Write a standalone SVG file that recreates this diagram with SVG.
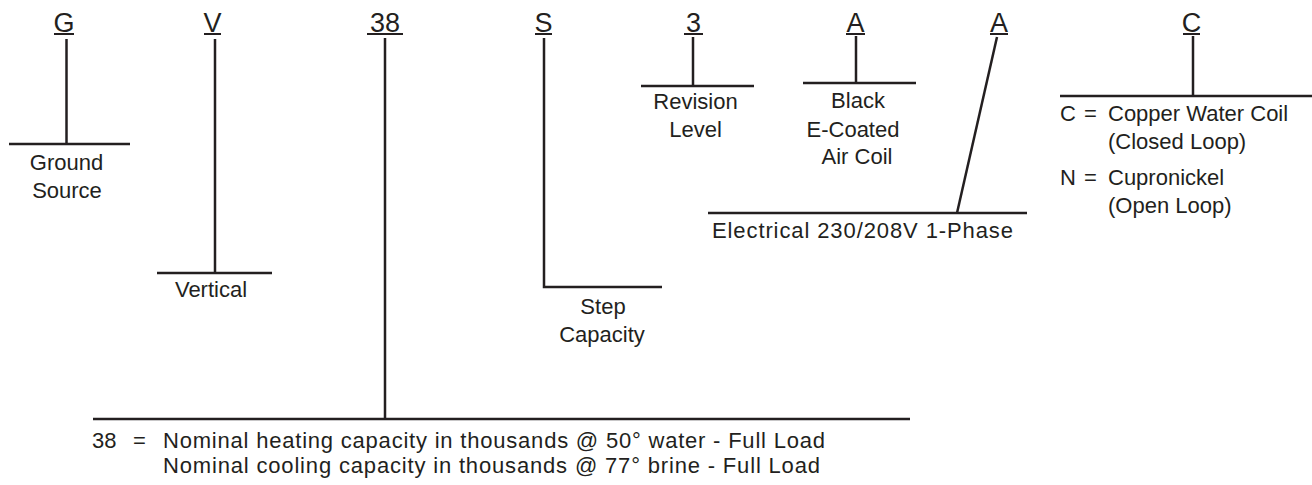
<svg xmlns="http://www.w3.org/2000/svg" width="1312" height="485" viewBox="0 0 1312 485">
  <style>
    .code { font-family: "Liberation Sans", Arial, sans-serif; font-size: 27px; fill: #231f20; text-anchor: middle; }
    .lbl { font-family: "Liberation Sans", Arial, sans-serif; font-size: 22px; fill: #231f20; text-anchor: middle; }
    .lbll { font-family: "Liberation Sans", Arial, sans-serif; font-size: 22px; fill: #231f20; }
    .ln { stroke: #231f20; stroke-width: 2.5; fill: none; stroke-linecap: butt; }
    .ul { stroke: #231f20; stroke-width: 2; fill: none; }
  </style>
  <rect width="1312" height="485" fill="#ffffff"/>

  <g id="connectors">
    <!-- G -->
    <line class="ln" x1="66.5" y1="39" x2="66.5" y2="144"/>
    <line class="ln" x1="9" y1="144" x2="130" y2="144"/>
    <!-- V -->
    <line class="ln" x1="215" y1="39" x2="215" y2="273"/>
    <line class="ln" x1="157" y1="273" x2="272" y2="273"/>
    <!-- 38 -->
    <line class="ln" x1="385" y1="38" x2="385" y2="419"/>
    <line class="ln" x1="93" y1="419" x2="910" y2="419"/>
    <!-- S -->
    <polyline class="ln" points="544,38 544,287 662,287"/>
    <!-- 3 -->
    <line class="ln" x1="693" y1="37" x2="693" y2="86"/>
    <line class="ln" x1="641" y1="86" x2="754" y2="86"/>
    <!-- A (coil) -->
    <line class="ln" x1="856" y1="36" x2="856" y2="83"/>
    <line class="ln" x1="803" y1="83" x2="916" y2="83"/>
    <!-- A (electrical) -->
    <line class="ln" x1="997" y1="37" x2="957" y2="213"/>
    <line class="ln" x1="708" y1="213" x2="1027" y2="213"/>
    <!-- C -->
    <line class="ln" x1="1193" y1="36" x2="1193" y2="96"/>
    <line class="ln" x1="1060" y1="96" x2="1312" y2="96"/>
  </g>

  <g id="node-G">
    <text class="code" x="64" y="32">G</text>
    <line class="ul" x1="54" y1="34" x2="74" y2="34"/>
    <text class="lbl" x="66.5" y="170">Ground</text>
    <text class="lbl" x="67" y="198">Source</text>
  </g>

  <g id="node-V">
    <text class="code" x="212.5" y="32">V</text>
    <line class="ul" x1="204" y1="34" x2="221" y2="34"/>
    <text class="lbl" x="211" y="297">Vertical</text>
  </g>

  <g id="node-38">
    <text class="code" x="385" y="32">38</text>
    <line class="ul" x1="367" y1="34" x2="403" y2="34"/>
    <text class="lbll" x="92" y="448">38</text>
    <text class="lbll" x="133" y="448">=</text>
    <text class="lbll" x="163" y="448" textLength="662" lengthAdjust="spacing">Nominal heating capacity in thousands @ 50° water - Full Load</text>
    <text class="lbll" x="163" y="473" textLength="657" lengthAdjust="spacing">Nominal cooling capacity in thousands @ 77° brine - Full Load</text>
  </g>

  <g id="node-S">
    <text class="code" x="543.5" y="32">S</text>
    <line class="ul" x1="535" y1="34" x2="552" y2="34"/>
    <text class="lbl" x="603" y="314">Step</text>
    <text class="lbl" x="602" y="342">Capacity</text>
  </g>

  <g id="node-3">
    <text class="code" x="693.5" y="32">3</text>
    <line class="ul" x1="684" y1="34" x2="703" y2="34"/>
    <text class="lbl" x="695.5" y="109">Revision</text>
    <text class="lbl" x="695.5" y="137">Level</text>
  </g>

  <g id="node-A-coil">
    <text class="code" x="855.5" y="32">A</text>
    <line class="ul" x1="846" y1="34" x2="865" y2="34"/>
    <text class="lbl" x="858" y="108">Black</text>
    <text class="lbl" x="853" y="136.5">E-Coated</text>
    <text class="lbl" x="857" y="164">Air Coil</text>
  </g>

  <g id="node-A-electrical">
    <text class="code" x="999" y="32">A</text>
    <line class="ul" x1="990" y1="34" x2="1008" y2="34"/>
    <text class="lbll" x="712" y="238" textLength="301" lengthAdjust="spacing">Electrical 230/208V 1-Phase</text>
  </g>

  <g id="node-C">
    <text class="code" x="1191.5" y="32">C</text>
    <line class="ul" x1="1183" y1="34" x2="1200" y2="34"/>
    <text class="lbll" x="1060" y="120.5">C</text>
    <text class="lbll" x="1084" y="120.5">=</text>
    <text class="lbll" x="1108" y="120.5">Copper Water Coil</text>
    <text class="lbll" x="1108" y="149">(Closed Loop)</text>
    <text class="lbll" x="1060" y="185">N</text>
    <text class="lbll" x="1084" y="185">=</text>
    <text class="lbll" x="1108" y="185">Cupronickel</text>
    <text class="lbll" x="1108" y="213">(Open Loop)</text>
  </g>
</svg>
